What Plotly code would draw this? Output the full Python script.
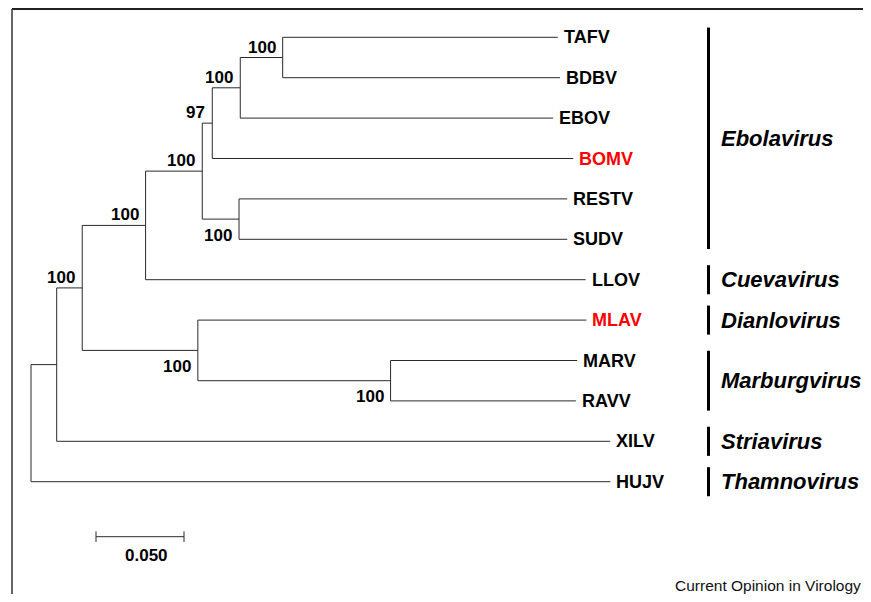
import plotly.graph_objects as go

# ---------------- data ----------------
leaves = ["TAFV", "BDBV", "EBOV", "BOMV", "RESTV", "SUDV",
          "LLOV", "MLAV", "MARV", "RAVV", "XILV", "HUJV"]
highlight = ["BOMV", "MLAV"]

node_names = ["A", "B", "C", "D", "E", "F", "G", "H", "I", "J",
              "TAFV", "BDBV", "EBOV", "BOMV", "RESTV", "SUDV",
              "LLOV", "MLAV", "MARV", "RAVV", "XILV", "HUJV"]
node_parent = ["root", "A", "B", "B", "C", "E", "E", "F", "H", "D",
               "I", "I", "H", "F", "G", "G",
               "C", "D", "J", "J", "A", "root"]
branch_length = [0.0146, 0.0145, 0.0360, 0.0657, 0.0322, 0.0057, 0.0209, 0.0159, 0.0241, 0.1095,
                 0.1563, 0.1576, 0.1778, 0.2051, 0.1865, 0.1865,
                 0.2500, 0.2208, 0.1060, 0.1053, 0.3145, 0.3292]

boot_nodes = ["I", "H", "F", "E", "C", "B", "G", "D", "J"]
boot_values = [100, 100, 97, 100, 100, 100, 100, 100, 100]
boot_below = ["G", "D", "J"]

genus_names = ["Ebolavirus", "Cuevavirus", "Dianlovirus", "Marburgvirus", "Striavirus", "Thamnovirus"]
genus_first = ["TAFV", "LLOV", "MLAV", "MARV", "XILV", "HUJV"]
genus_last = ["SUDV", "LLOV", "MLAV", "RAVV", "XILV", "HUJV"]

scale_value = 0.05
scale_label = "0.050"
credit = "Current Opinion in Virology"

# ---------------- tree layout ----------------
blen = dict(zip(node_names, branch_length))
children = {}
for n, p in zip(node_names, node_parent):
    children.setdefault(p, []).append(n)

depth = {"root": 0.0}
def set_depth(n):
    for c in children.get(n, []):
        depth[c] = depth[n] + blen[c]
        set_depth(c)
set_depth("root")

ypos = {name: i for i, name in enumerate(leaves)}
def get_y(n):
    if n in ypos:
        return ypos[n]
    ys_ = [get_y(c) for c in children[n]]
    ypos[n] = (min(ys_) + max(ys_)) / 2
    return ypos[n]
get_y("root")

xs, ys = [], []
for n in ["root"] + node_names:
    ch = children.get(n, [])
    if ch:
        cy = [ypos[c] for c in ch]
        xs += [depth[n], depth[n], None]
        ys += [min(cy), max(cy), None]
        for c in ch:
            xs += [depth[n], depth[c], None]
            ys += [ypos[c], ypos[c], None]

# page has an 8px body margin; the figure is shrunk and offset so the page does not overflow
OFF = 8
W, H = 871 - 2 * OFF, 602 - 2 * OFF
PX_PER_UNIT = 1760.0
ROOT_PX = 31.0 - OFF
LEAF0_PX = 37.3 - OFF
LEAF_STEP = 40.4

def paper_x(p):
    return (p - OFF) / W

def paper_y(p):
    return 1 - (p - OFF) / H

x_range = [-ROOT_PX / PX_PER_UNIT, (W - ROOT_PX) / PX_PER_UNIT]
y_range = [(H - LEAF0_PX) / LEAF_STEP, -LEAF0_PX / LEAF_STEP]

fig = go.Figure()
fig.add_trace(go.Scatter(x=xs, y=ys, mode="lines",
                         line=dict(color="#2a2a2a", width=1),
                         hoverinfo="skip", showlegend=False))

FONT = "Liberation Sans, Arial, Helvetica, sans-serif"
ann = []
for name in leaves:
    ann.append(dict(x=depth[name], y=ypos[name], xref="x", yref="y",
                    text=name, showarrow=False, xanchor="left", yanchor="middle",
                    xshift=4,
                    font=dict(family=FONT, size=18, weight="bold",
                              color="#ff0000" if name in highlight else "#000000")))

for n, v in zip(boot_nodes, boot_values):
    below = n in boot_below
    ann.append(dict(x=depth[n], y=ypos[n], xref="x", yref="y",
                    text=str(v), showarrow=False, xanchor="right", yanchor="middle",
                    xshift=-5, yshift=-16 if below else 10.5,
                    font=dict(family=FONT, size=17, weight="bold", color="#000000")))

shapes = []
for g, f, l in zip(genus_names, genus_first, genus_last):
    y0, y1 = ypos[f], ypos[l]
    pad = 0.36 if f == l else 0.24
    shapes.append(dict(type="line", xref="paper", yref="y",
                       x0=paper_x(708.5), x1=paper_x(708.5), y0=y0 - pad, y1=y1 + pad,
                       line=dict(color="#000000", width=3)))
    ann.append(dict(x=paper_x(719), y=(y0 + y1) / 2, xref="paper", yref="y",
                    text="<i>" + g + "</i>", showarrow=False,
                    xanchor="left", yanchor="middle",
                    font=dict(family=FONT, size=22, weight="bold", color="#000000")))

# scale bar
sb_x0 = (96 - OFF - ROOT_PX) / PX_PER_UNIT
sb_y = (536.7 - OFF - LEAF0_PX) / LEAF_STEP
tick = 5.3 / LEAF_STEP
fig.add_trace(go.Scatter(
    x=[sb_x0, sb_x0 + scale_value, None, sb_x0, sb_x0, None,
       sb_x0 + scale_value, sb_x0 + scale_value],
    y=[sb_y, sb_y, None, sb_y - tick, sb_y + tick, None, sb_y - tick, sb_y + tick],
    mode="lines", line=dict(color="#2a2a2a", width=1),
    hoverinfo="skip", showlegend=False))
ann.append(dict(x=sb_x0 + scale_value / 2, y=sb_y, xref="x", yref="y",
                text=scale_label, showarrow=False, xanchor="center", yanchor="middle",
                xshift=6, yshift=-18.5,
                font=dict(family=FONT, size=17, weight="bold", color="#000000")))

ann.append(dict(x=1.0, y=paper_y(585), xref="paper", yref="paper",
                text=credit, showarrow=False, xanchor="right", yanchor="middle",
                font=dict(family=FONT, size=15.5, color="#111111")))

# frame (top and left edges)
top_y = 1 - 1.0 / H
shapes.append(dict(type="line", xref="paper", yref="paper",
                   x0=paper_x(12), x1=1.0, y0=top_y, y1=top_y,
                   line=dict(color="#222222", width=2)))
shapes.append(dict(type="line", xref="paper", yref="paper",
                   x0=paper_x(12), x1=paper_x(12), y0=top_y, y1=0.0,
                   line=dict(color="#333333", width=1.5)))

fig.update_layout(
    width=W, height=H, autosize=False,
    margin=dict(l=0, r=0, t=0, b=0),
    paper_bgcolor="white", plot_bgcolor="white",
    xaxis=dict(range=x_range, visible=False, fixedrange=True),
    yaxis=dict(range=y_range, visible=False, fixedrange=True),
    annotations=ann, shapes=shapes, showlegend=False,
)
fig.write_html("out.html")
